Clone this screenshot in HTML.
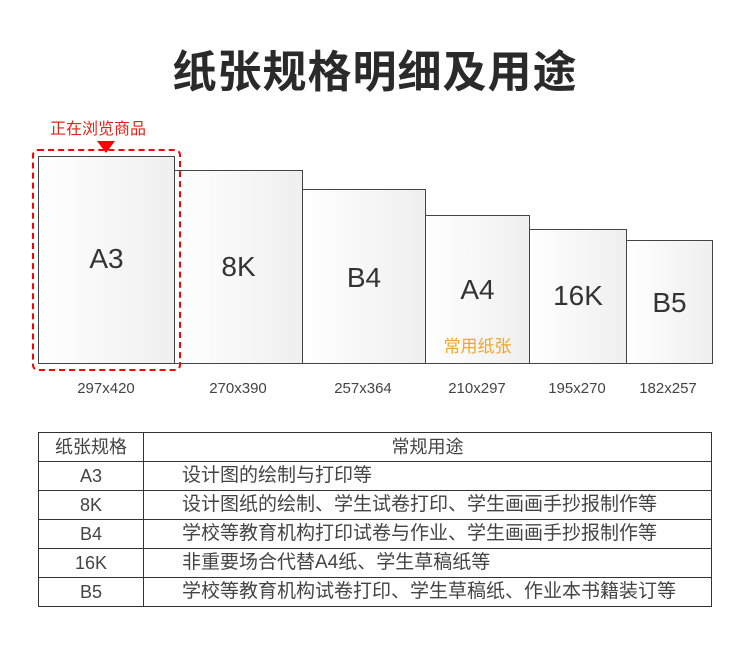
<!DOCTYPE html>
<html><head><meta charset="utf-8"><style>
body{margin:0;width:750px;height:657px;background:#fff;position:relative;overflow:hidden;font-family:"Liberation Sans","Noto Sans CJK SC",sans-serif;color:#333}
.a{position:absolute}
.t{left:0;width:750px;top:36px;text-align:center;font-size:44px;font-weight:bold;color:#2a2a2a;letter-spacing:1px}
.r{position:absolute;border:1.5px solid #444;box-sizing:border-box;background:linear-gradient(90deg,#fff,#efefef)}
.r span{position:absolute;left:0;right:0;text-align:center;font-size:28px;color:#333}
.d{position:absolute;font-size:15px;color:#444;text-align:center;width:100px}
table{position:absolute;left:38px;top:432px;width:674px;border-collapse:collapse;font-size:18px;color:#444}
td{border:1.5px solid #333;height:28px;padding:0;line-height:28px}
td:first-child{text-align:center;width:104px}
td.l{padding-left:38px;font-size:19px}
</style></head><body>
<div class="a t">纸张规格明细及用途</div>
<div class="a" style="left:50px;top:115px;font-size:16px;color:#e8201a">正在浏览商品</div>
<div class="a" style="left:97px;top:141px;width:0;height:0;border-left:9px solid transparent;border-right:9px solid transparent;border-top:12px solid #f00"></div>
<div class="r" style="left:174px;top:170px;width:129px;height:194px"><span style="top:80px">8K</span></div>
<div class="r" style="left:302px;top:189px;width:124px;height:175px"><span style="top:72px">B4</span></div>
<div class="r" style="left:425px;top:215px;width:105px;height:149px"><span style="top:58px">A4</span><span style="top:116px;font-size:17px;color:#f5a623">常用纸张</span></div>
<div class="r" style="left:529px;top:229px;width:98px;height:135px"><span style="top:50px">16K</span></div>
<div class="r" style="left:626px;top:240px;width:87px;height:124px"><span style="top:46px">B5</span></div>
<div class="r" style="left:38px;top:156px;width:137px;height:208px"><span style="top:86px">A3</span></div>
<div class="a" style="left:32px;top:149px;width:149px;height:222px;border:2px dashed #f00;border-radius:6px;box-sizing:border-box"></div>
<div class="d" style="left:56px;top:380px">297x420</div>
<div class="d" style="left:188px;top:380px">270x390</div>
<div class="d" style="left:313px;top:380px">257x364</div>
<div class="d" style="left:427px;top:380px">210x297</div>
<div class="d" style="left:527px;top:380px">195x270</div>
<div class="d" style="left:618px;top:380px">182x257</div>
<table>
<tr><td>纸张规格</td><td style="text-align:center">常规用途</td></tr>
<tr><td>A3</td><td class="l">设计图的绘制与打印等</td></tr>
<tr><td>8K</td><td class="l">设计图纸的绘制、学生试卷打印、学生画画手抄报制作等</td></tr>
<tr><td>B4</td><td class="l">学校等教育机构打印试卷与作业、学生画画手抄报制作等</td></tr>
<tr><td>16K</td><td class="l">非重要场合代替A4纸、学生草稿纸等</td></tr>
<tr><td>B5</td><td class="l">学校等教育机构试卷打印、学生草稿纸、作业本书籍装订等</td></tr>
</table>
</body></html>
